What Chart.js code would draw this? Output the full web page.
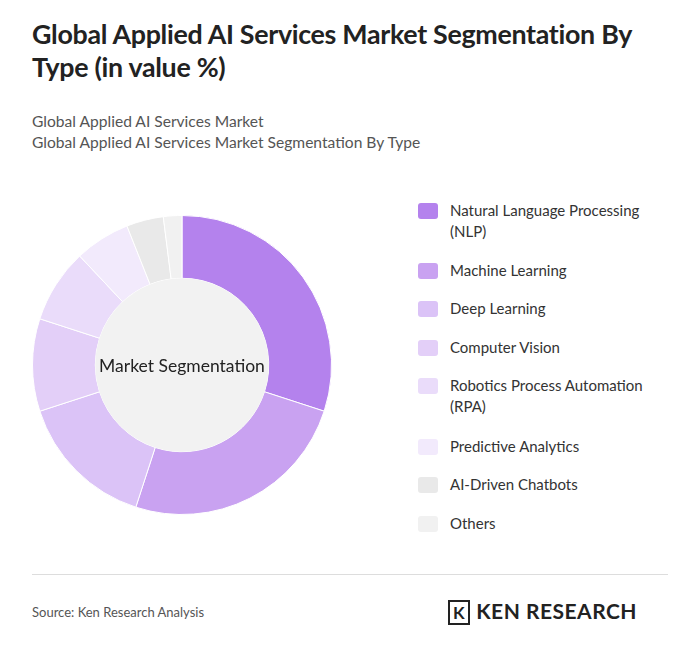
<!DOCTYPE html>
<html><head><meta charset="utf-8">
<script src="https://cdn.jsdelivr.net/npm/chart.js@4/dist/chart.umd.min.js"></script>
<style>
body{margin:0;background:#fff;font-family:Lato,"Open Sans",sans-serif;}
#wrap{position:relative;width:700px;height:659px;}
h1{position:absolute;left:32px;top:18px;margin:0;font-size:26.8px;line-height:33px;font-weight:700;color:#222;width:630px;letter-spacing:-0.3px}
.sub{position:absolute;left:32px;font-size:15.6px;color:#555;}
#cv{position:absolute;left:15px;top:190px;width:370px;height:350px;}
#leg{position:absolute;left:418px;top:200px;width:240px;}
.li{position:relative;padding-left:32px;font-size:15px;color:#333;line-height:21px;width:208px}
.sw{position:absolute;left:0;top:3px;width:20px;height:16px;border-radius:3px;}
hr{position:absolute;left:32px;top:574px;width:636px;border:0;border-top:1px solid #ddd;margin:0}
.src{position:absolute;left:32px;top:604px;font-size:13px;color:#555}
.logo{position:absolute;left:448px;top:598px;font-size:21px;font-weight:700;color:#222;letter-spacing:0.5px}
</style></head><body><div id="wrap">
<h1>Global Applied AI Services Market Segmentation By Type (in value %)</h1>
<div class="sub" style="top:112px">Global Applied AI Services Market</div>
<div class="sub" style="top:133px">Global Applied AI Services Market Segmentation By Type</div>
<div id="cv"><canvas id="c"></canvas></div>
<div id="leg"></div>
<hr><div class="src">Source: Ken Research Analysis</div>
<div class="logo"><span style="display:inline-block;border:2px solid #222;padding:0 3px;font-size:17px;margin-right:6px">K</span>KEN RESEARCH</div>
</div>
<script>
const categories=["Natural Language Processing (NLP)","Machine Learning","Deep Learning","Computer Vision","Robotics Process Automation (RPA)","Predictive Analytics","AI-Driven Chatbots","Others"];
const values=[30,25,15,10,8,6,4,2];
const colors=["#b482ed","#c9a2f1","#dbc3f7","#e3cff8","#eadcfa","#f2eafc","#e9e9e9","#f1f1f1"];
const tops=[200,260,298,337,375,436,474,513];
const leg=document.getElementById('leg');
categories.forEach((c,i)=>{const d=document.createElement('div');d.className='li';d.style.position='absolute';d.style.top=(tops[i]-200)+'px';d.innerHTML='<span class="sw" style="background:'+colors[i]+'"></span>'+c;leg.appendChild(d);});
const center={id:'center',afterDatasetsDraw(ch){const m=ch.getDatasetMeta(0).data[0];const x=m.x,y=m.y,ctx=ch.ctx;ctx.save();ctx.beginPath();ctx.arc(x,y,m.innerRadius,0,Math.PI*2);ctx.fillStyle='#f2f2f2';ctx.fill();ctx.fillStyle='#222';ctx.font='17.5px Lato';ctx.textAlign='center';ctx.textBaseline='middle';ctx.fillText('Market Segmentation',x,y+1);ctx.restore();}};
new Chart(document.getElementById('c'),{type:'doughnut',data:{labels:categories,datasets:[{data:values,backgroundColor:colors,borderColor:'#fff',borderWidth:1}]},
options:{responsive:true,maintainAspectRatio:false,animation:false,cutout:'58%',layout:{padding:{left:0,right:36,top:25,bottom:25}},plugins:{legend:{display:false},tooltip:{enabled:false}}},plugins:[center]});
</script></body></html>
